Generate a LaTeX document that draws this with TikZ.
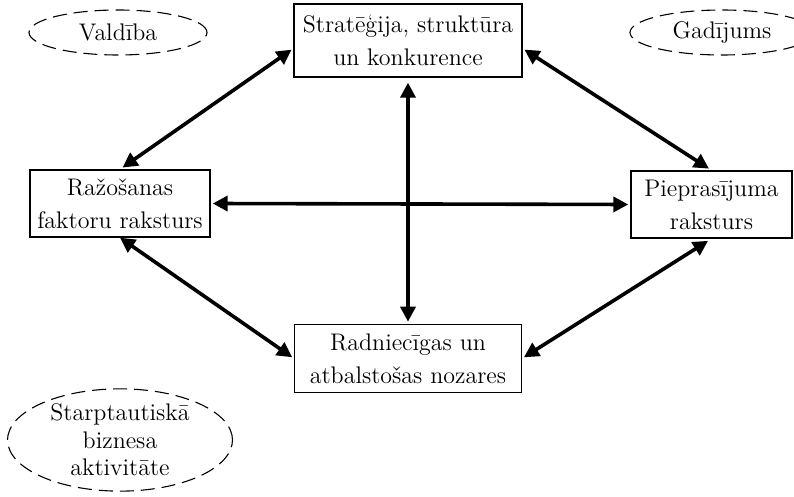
\documentclass[tikz,border=0pt]{standalone}
\usepackage{tikz}
\usetikzlibrary{arrows.meta, positioning, shapes.geometric}

\begin{document}
\begin{tikzpicture}[
  x=0.5pt, y=-0.5pt,
  box/.style={rectangle, draw, line width=0.7pt, align=center, inner sep=2pt,
              minimum height=33.5pt, font=\fontsize{12}{16.5}\selectfont},
  oval/.style={ellipse, draw, line width=0.55pt, dash pattern=on 7pt off 3.5pt,
               inner sep=0pt, align=center, font=\fontsize{12}{13.8}\selectfont},
  arrow/.style={{Triangle[length=7.5pt,width=7.5pt]}-{Triangle[length=7.5pt,width=7.5pt]},
                line width=1.8pt}
]
  \useasboundingbox (0,0) rectangle (794,497);

  % rombs
  \node[box, minimum width=114pt, minimum height=36.5pt] (strat) at (408,40.5)
    {Stratēģija, struktūra\\un konkurence};
  \node[box, minimum width=113.5pt, minimum height=34pt, below=123pt of strat] (radn)
    {Radniecīgas un\\atbalstošas nozares};
  \node[box, minimum width=90pt] (razo) at (120,203.5) {Ražošanas\\faktoru raksturs};
  \node[box, minimum width=80.5pt] (piepr) at (711.5,204.5) {Pieprasījuma\\raksturs};

  % ārējie faktori
  \node[oval, minimum width=89pt, minimum height=22.5pt] (vald) at (118,32.5) {Valdība};
  \node[oval, minimum width=92pt, minimum height=22.5pt] (gad) at (722,32.5) {Gadījums};
  \node[oval, minimum width=112.5pt, minimum height=50pt] (starpt) at (120,440)
    {Starptautiskā\\biznesa\\aktivitāte};

  % bultas
  \draw[arrow, shorten <=2.5pt, shorten >=1pt] (strat) -- (radn);
  \draw[arrow, shorten <=1pt, shorten >=1pt] (razo.east) -- (piepr.west);
  \draw[arrow, shorten <=1.5pt, shorten >=1pt] (razo.north) -- ([yshift=-4pt]strat.west);
  \draw[arrow, shorten <=1pt, shorten >=1.5pt] ([yshift=-4pt]strat.east) -- (piepr.north);
  \draw[arrow, shorten <=0pt, shorten >=1pt] (razo.south) -- (radn.west);
  \draw[arrow, shorten <=2pt, shorten >=1pt] (piepr.south) -- (radn.east);
\end{tikzpicture}
\end{document}
